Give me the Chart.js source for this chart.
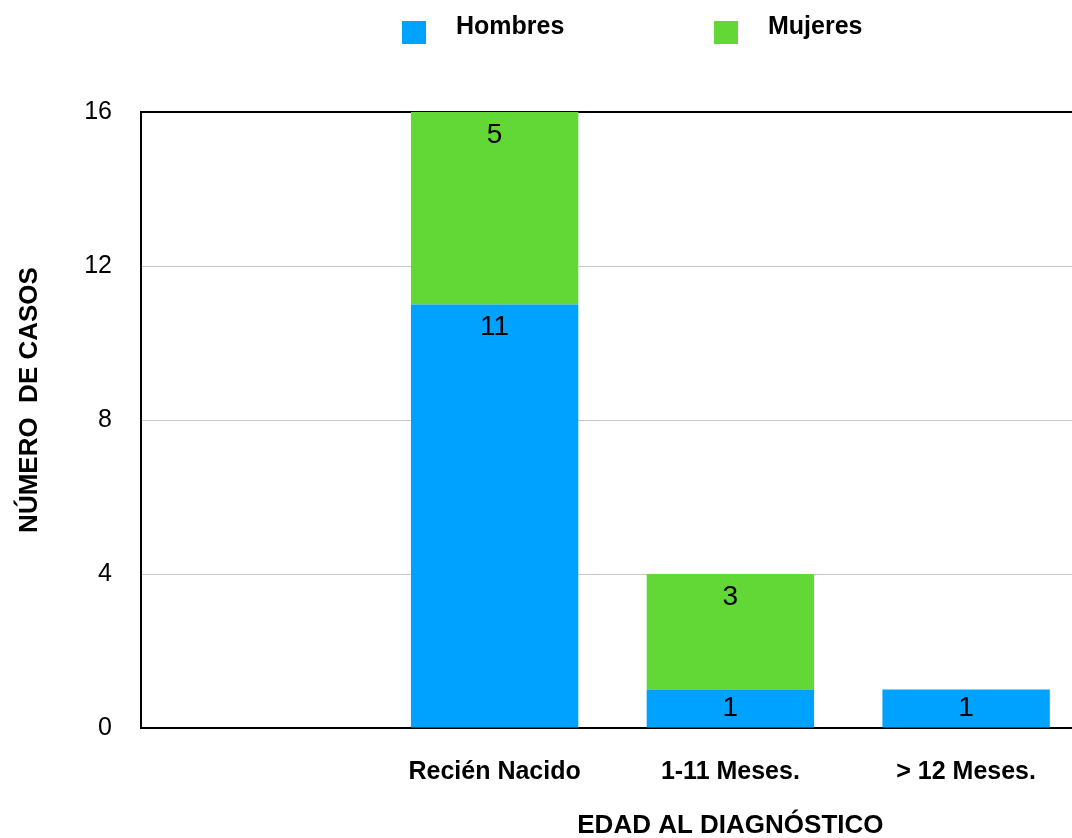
<!DOCTYPE html>
<html>
<head>
<meta charset="utf-8">
<script src="https://cdn.jsdelivr.net/npm/chart.js@4/dist/chart.umd.min.js"></script>
<style>
  html, body { margin: 0; padding: 0; background: #fff; overflow: hidden; }
  /* plot runs a little past the right edge of the window, as in the original */
  #wrap { width: 1084px; height: 838px; }
</style>
</head>
<body>
<div id="wrap"><canvas id="chart"></canvas></div>
<script>
const categories = ['', 'Recién Nacido', '1-11 Meses.', '> 12 Meses.'];
const hombres = [null, 11, 1, 1];
const mujeres = [null, 5, 3, null];
const yTicks = [0, 4, 8, 12, 16];

const FONT = "'Liberation Sans', Arial, Helvetica, sans-serif";

// labels near the top of each stacked segment
const segmentLabels = {
   id: 'segmentLabels',
   afterDatasetsDraw(chart) {
      const ctx = chart.ctx;
      ctx.save();
      ctx.font = '28px ' + FONT;
      ctx.fillStyle = '#000';
      ctx.textAlign = 'center';
      ctx.textBaseline = 'middle';
      chart.data.datasets.forEach((ds, i) => {
         const meta = chart.getDatasetMeta(i);
         meta.data.forEach((bar, j) => {
            const v = ds.data[j];
            if (v === null || v === undefined) return;
            const y = Math.min(bar.y + 23, (bar.y + bar.base) / 2);
            ctx.fillText(String(v), bar.x, y);
         });
      });
      ctx.restore();
   }
};

// legend and axis titles
const extras = {
   id: 'extras',
   afterDraw(chart) {
      const ctx = chart.ctx;
      ctx.save();

      // legend
      ctx.font = 'bold 25px ' + FONT;
      ctx.textBaseline = 'alphabetic';
      ctx.textAlign = 'left';
      chart.data.datasets.forEach((ds, i) => {
         const x = 402 + i * 312;
         ctx.fillStyle = ds.backgroundColor;
         ctx.fillRect(x, 21, 24, 23);
         ctx.fillStyle = '#000';
         ctx.fillText(ds.label, x + 54, 34);
      });

      // y title
      ctx.font = 'bold 26px ' + FONT;
      ctx.save();
      ctx.translate(30, 400);
      ctx.rotate(-Math.PI / 2);
      ctx.textAlign = 'center';
      ctx.textBaseline = 'middle';
      ctx.fillText('NÚMERO  DE CASOS', 0, 0);
      ctx.restore();

      // x title, centred under the middle group
      ctx.textAlign = 'center';
      ctx.fillText('EDAD AL DIAGNÓSTICO', chart.scales.x.getPixelForValue(2), 833);

      ctx.restore();
   }
};

new Chart(document.getElementById('chart'), {
   type: 'bar',
   data: {
      labels: categories,
      datasets: [
         {
            label: 'Hombres',
            data: hombres,
            backgroundColor: '#00A2FF',
            borderWidth: 0,
            categoryPercentage: 0.71,
            barPercentage: 1
         },
         {
            label: 'Mujeres',
            data: mujeres,
            backgroundColor: '#61D836',
            borderWidth: 0,
            categoryPercentage: 0.71,
            barPercentage: 1
         }
      ]
   },
   options: {
      responsive: true,
      maintainAspectRatio: false,
      animation: false,
      layout: { padding: { top: 112, left: 0, right: 0, bottom: 0 } },
      plugins: {
         legend: { display: false },
         tooltip: { enabled: false }
      },
      scales: {
         x: {
            stacked: true,
            grid: { display: false, drawTicks: false },
            border: { display: true, color: '#000', width: 2 },
            ticks: {
               padding: 29,
               color: '#000',
               font: { family: FONT, size: 25, weight: 'bold' }
            },
            afterFit(scale) { scale.height = 110; }
         },
         y: {
            stacked: true,
            min: 0,
            max: 16,
            afterBuildTicks(scale) { scale.ticks = yTicks.map(v => ({ value: v })); },
            grid: {
               drawTicks: false,
               color: c => (c.tick && c.tick.value === 16) ? '#000' : '#c8c8c8',
               lineWidth: c => (c.tick && c.tick.value === 16) ? 2 : 1
            },
            border: { display: true, color: '#000', width: 2 },
            ticks: {
               padding: 29,
               color: '#000',
               font: { family: FONT, size: 25 }
            },
            afterFit(scale) { scale.width = 141; }
         }
      }
   },
   plugins: [segmentLabels, extras]
});
</script>
</body>
</html>
